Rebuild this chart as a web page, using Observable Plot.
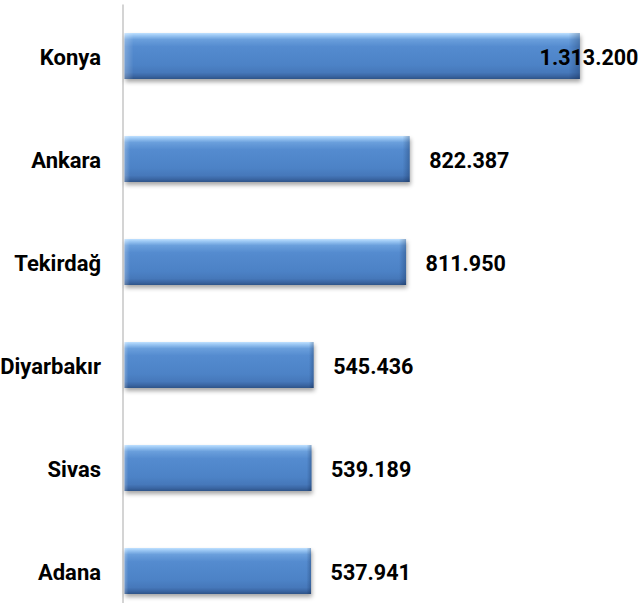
<!DOCTYPE html>
<html><head><meta charset="utf-8">
<script src="https://cdn.jsdelivr.net/npm/d3@7"></script>
<script src="https://cdn.jsdelivr.net/npm/@observablehq/plot@0.6"></script>
<style>
body{margin:0;background:#fff;}
.bars rect{filter:drop-shadow(1px 3px 2px rgba(0,0,0,0.35));}
</style>
</head><body><div id="chart"></div>
<script>
const provinces = ["Konya","Ankara","Tekirdağ","Diyarbakır","Sivas","Adana"];
const values = [1313200, 822387, 811950, 545436, 539189, 537941];
const valueLabels = ["1.313.200","822.387","811.950","545.436","539.189","537.941"];

const data = provinces.map((p,i)=>({province:p, value:values[i], label:valueLabels[i]}));
const maxVal = d3.max(values);
const font = {fontSize:21.5, fontWeight:"bold", fill:"#000"};

const chart = Plot.plot({
  width: 641, height: 603,
  marginLeft: 124.5, marginRight: 31, marginTop: 30.5, marginBottom: 6,
  x: {domain:[0,1400000], axis:null},
  y: {domain: provinces, paddingInner:0.55, paddingOuter:0, axis:null},
  style: {fontFamily:"Roboto, 'Liberation Sans', sans-serif", background:"#fff", color:"#000"},
  marks: [
    Plot.ruleX([0], {stroke:"#d4d4d4", strokeWidth:2, dx:-2, insetTop:-26, insetBottom:-6}),
    Plot.axisY({tickSize:0, tickPadding:24, fontSize:22, fontWeight:"bold", dy:1, label:null}),
    Plot.barX(data, {x:"value", y:"province", fill:"url(#barGrad)", className:"bars"}),
    Plot.barX(data, {x:"value", y:"province", fill:"url(#bevelGrad)"}),
    Plot.text(data.filter(d=>d.value<maxVal), {x:"value", y:"province", text:"label", textAnchor:"start", dx:19, dy:2, ...font}),
    Plot.text(data.filter(d=>d.value===maxVal), {x:"value", y:"province", text:"label", textAnchor:"end", dx:58, dy:2, ...font})
  ]
});

const ns = "http://www.w3.org/2000/svg";
const defs = document.createElementNS(ns, "defs");
defs.innerHTML = `
<linearGradient id="barGrad" x1="0" y1="0" x2="0" y2="1">
  <stop offset="0" stop-color="#bfe0ff"/>
  <stop offset="0.05" stop-color="#9cc8f4"/>
  <stop offset="0.14" stop-color="#6a9fdc"/>
  <stop offset="0.3" stop-color="#548bcf"/>
  <stop offset="0.7" stop-color="#4c82c6"/>
  <stop offset="0.86" stop-color="#4678ba"/>
  <stop offset="0.94" stop-color="#3a65a2"/>
  <stop offset="1" stop-color="#2e5488"/>
</linearGradient>
<linearGradient id="bevelGrad" x1="0" y1="0" x2="1" y2="0">
  <stop offset="0" stop-color="#ffffff" stop-opacity="0.25"/>
  <stop offset="0.02" stop-color="#ffffff" stop-opacity="0"/>
  <stop offset="0.975" stop-color="#001030" stop-opacity="0"/>
  <stop offset="1" stop-color="#001030" stop-opacity="0.25"/>
</linearGradient>`;
chart.insertBefore(defs, chart.firstChild);
document.getElementById("chart").appendChild(chart);
</script>
</body></html>
